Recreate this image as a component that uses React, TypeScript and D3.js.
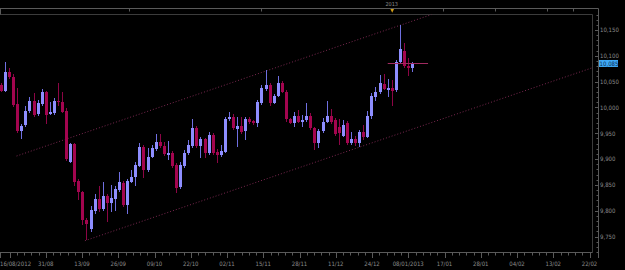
import React from 'react';
import * as d3 from 'd3';

// ---- Data (daily OHLC) ----
const opens = [10044,10032,10069,10059,10007,9955,9966,9993,10013,9987,10006,10029,9987,9989,10013,10011,9994,9895,9929,9858,9837,9782,9764,9800,9823,9803,9829,9815,9823,9840,9854,9811,9856,9866,9887,9924,9878,9905,9920,9934,9925,9908,9912,9889,9846,9887,9911,9925,9960,9925,9938,9911,9947,9914,9908,9914,9977,9982,9958,9965,9954,9978,9974,9969,10009,10036,10044,10009,10022,10047,10030,9977,9970,9984,9972,9976,9983,9960,9931,9954,9972,9983,9976,9962,9945,9969,9931,9939,9931,9952,9943,9984,10021,10029,10046,10034,10037,10034,10089,10110,10081,10077];
const highs = [10047,10089,10076,10065,10038,9968,10003,10021,10028,10014,10036,10032,10011,10019,10047,10030,9999,9931,9931,9861,9839,9786,9809,9832,9847,9856,9832,9850,9848,9876,9858,9862,9879,9895,9932,9927,9921,9927,9948,9949,9933,9935,9916,9893,9894,9918,9937,9977,9964,9943,9941,9953,9951,9920,9927,9982,9992,9987,9982,9982,9982,9982,9976,10014,10043,10073,10047,10026,10060,10051,10034,9980,9992,9995,9985,10009,9989,9963,9958,9980,10013,9998,9980,9977,9976,9974,9952,9945,9956,9966,9993,10028,10040,10063,10064,10056,10053,10092,10160,10124,10096,10089];
const lows = [10030,10030,10055,10001,9951,9939,9962,9989,9982,9983,10003,9968,9985,9985,10003,9989,9896,9892,9848,9820,9773,9743,9758,9793,9798,9800,9779,9798,9800,9836,9807,9793,9854,9848,9885,9864,9875,9902,9916,9922,9906,9898,9882,9834,9842,9883,9908,9922,9922,9902,9902,9908,9908,9892,9904,9912,9974,9956,9924,9949,9937,9968,9966,9963,10005,10032,10002,10007,10020,10028,9972,9968,9963,9970,9963,9972,9956,9918,9921,9951,9970,9968,9945,9927,9943,9927,9927,9925,9924,9937,9941,9978,10012,10026,10034,10021,10002,10030,10086,10076,10060,10068];
const closes = [10032,10068,10059,10005,9955,9965,9994,10013,9985,10008,10029,9985,9992,10013,10010,9992,9900,9929,9856,9836,9782,9774,9801,9823,9803,9829,9815,9824,9842,9856,9811,9858,9866,9889,9924,9878,9905,9921,9934,9925,9909,9912,9887,9844,9889,9911,9927,9960,9925,9938,9911,9947,9912,9908,9916,9978,9982,9960,9965,9953,9978,9972,9969,10011,10038,10044,10009,10022,10047,10030,9977,9970,9984,9972,9976,9983,9960,9931,9954,9972,9983,9972,9949,9951,9967,9931,9939,9931,9952,9943,9984,10023,10029,10047,10036,10038,10032,10089,10113,10080,10077,10085];

const dateLabels = ['16/08/2012','31/08','13/09','26/09','09/10','22/10','02/11','15/11','28/11','11/12','24/12','08/01/2013','17/01','28/01','04/02','13/02','22/02'];
const priceTicks = [9750,9800,9850,9900,9950,10000,10050,10100,10150];
const lastPrice = 10085;
const yearLabel = '2013';
// channel lines: [barIndex, price]
const channelUpper = [[3.7, 9906],[105.7, 10180]];
const channelLower = [[20.5, 9742],[145.2, 10077]];
const lastPriceSpan = [94.9, 104.8];
const yearMarkerIndex = 96;

// ---- Layout ----
const W = 625, H = 270;
const plotL = 0, plotR = 592.5, plotT = 14.5, plotB = 252.5;
const axisX = 598.5;
const BLUE = '#8e8eff';
const BLUE_WICK = '#6f6fe0';
const RED = '#a3054f';
const RED_WICK = '#8c0545';
const CHANNEL = '#7a2850';
const FRAME = '#3c3c3c';
const AXIS = '#5a5a5a';
const TEXT = '#8c8c8c';
const FONT = '"DejaVu Sans Condensed", "Liberation Sans", sans-serif';

export default function App() {
  const n = closes.length;
  const x = d3.scaleLinear().domain([0, n - 1]).range([1.5, 1.5 + 4.07 * (n - 1)]);
  const y = d3.scaleLinear().domain([9750, 10150]).range([236.6, 30]);
  const tx = d3.scaleLinear().domain([0, dateLabels.length - 1]).range([9.5, 589.5]);
  const fmt = d3.format(',');
  const line = d3.line<number[]>().x(d => x(d[0])).y(d => y(d[1]));

  const minorX: number[] = [];
  for (let k = 0; k < (dateLabels.length - 1) * 5 + 1; k++) {
    const v = tx(k / 5);
    if (v <= plotR) minorX.push(v);
  }
  const minorY = d3.range(9720, 10190, 10);

  const lpY = Math.round(y(lastPrice)) - 0.5;
  const ym = x(yearMarkerIndex);

  return (
    <svg width={W} height={H} style={{ position: 'absolute', left: 0, top: 0, background: '#000' }}>
      <rect x={0} y={0} width={W} height={H} fill="#000" />
      <defs>
        <clipPath id="plotclip">
          <rect x={plotL} y={plotT} width={plotR - plotL} height={plotB - plotT} />
        </clipPath>
      </defs>

      {/* top strip */}
      <line x1={0} x2={axisX} y1={8.5} y2={8.5} stroke={AXIS} />
      <line x1={0} x2={plotR} y1={plotT} y2={plotT} stroke={FRAME} />
      <line x1={0.5} x2={0.5} y1={8.5} y2={14.5} stroke={AXIS} />
      {[129, 260.7, 443, 495, 547, 573].map((v, k) => (
        <line key={k} x1={Math.round(v) + 0.5} x2={Math.round(v) + 0.5} y1={8.5} y2={11.5} stroke={AXIS} />
      ))}
      <text x={ym - 0.5} y={6.3} fill={TEXT} fontSize={5.5} fontFamily={FONT} textAnchor="middle">{yearLabel}</text>
      <path d={`M${ym - 1.8},9 L${ym + 1.8},9 L${ym},12.8 Z`} fill="#d4a017" />

      {/* frame */}
      <line x1={plotR} x2={plotR} y1={plotT} y2={plotB} stroke={FRAME} />
      <line x1={axisX} x2={axisX} y1={8.5} y2={258} stroke={AXIS} />

      {/* y axis ticks */}
      {minorY.map(v => {
        const yy = Math.round(y(v)) + 0.5;
        if (yy < 9 || yy > 257) return null;
        const major = v % 50 === 0;
        return <line key={v} x1={major ? 595 : 596.5} x2={axisX} y1={yy} y2={yy} stroke={AXIS} />;
      })}
      {priceTicks.map(v => (
        <text key={v} x={600} y={y(v) + 2.2} fill={TEXT} fontSize={6} fontFamily={FONT}>{fmt(v)}</text>
      ))}

      {/* x axis */}
      <line x1={0} x2={plotR} y1={plotB} y2={plotB} stroke={AXIS} />
      {minorX.map((v, k) => {
        const major = k % 5 === 0;
        const xx = Math.round(v) + 0.5;
        return <line key={k} x1={xx} x2={xx} y1={plotB} y2={major ? 258 : 255.5} stroke={AXIS} />;
      })}
      <line x1={0.5} x2={0.5} y1={plotB} y2={258} stroke={AXIS} />
      {dateLabels.map((lab, k) => {
        const cx = tx(k);
        const first = k === 0;
        return (
          <text key={lab} x={first ? 0 : cx} y={266} fill={TEXT} fontSize={6} fontFamily={FONT}
            textAnchor={first ? 'start' : 'middle'}>{lab}</text>
        );
      })}

      <g clipPath="url(#plotclip)">
        {/* channel */}
        <path d={line(channelUpper) || ''} stroke={CHANNEL} strokeDasharray="1 2" fill="none" />
        <path d={line(channelLower) || ''} stroke={CHANNEL} strokeDasharray="1 2" fill="none" />

        {/* candles */}
        {closes.map((c, i) => {
          const o = opens[i];
          const up = c >= o;
          const cx = Math.floor(x(i));
          const yt = Math.round(y(Math.max(o, c)));
          const yb = Math.round(y(Math.min(o, c)));
          const yh = Math.round(y(highs[i]));
          const yl = Math.round(y(lows[i]));
          return (
            <g key={i}>
              <line x1={cx + 0.5} x2={cx + 0.5} y1={yh} y2={yl} stroke={up ? BLUE_WICK : RED_WICK} />
              <rect x={cx - 1} y={yt} width={3} height={Math.max(1, yb - yt)} fill={up ? BLUE : RED} />
            </g>
          );
        })}

        {/* last price line */}
        <line x1={x(lastPriceSpan[0])} x2={x(lastPriceSpan[1])} y1={lpY} y2={lpY} stroke="#a02a60" />
      </g>

      {/* last price label */}
      <rect x={599} y={y(lastPrice) - 3.6} width={19} height={7} fill="#3fa9f5" />
      <text x={599.6} y={y(lastPrice) + 2.1} fill="#0a2a50" fontSize={6} fontFamily={FONT}>{fmt(lastPrice)}</text>
    </svg>
  );
}
